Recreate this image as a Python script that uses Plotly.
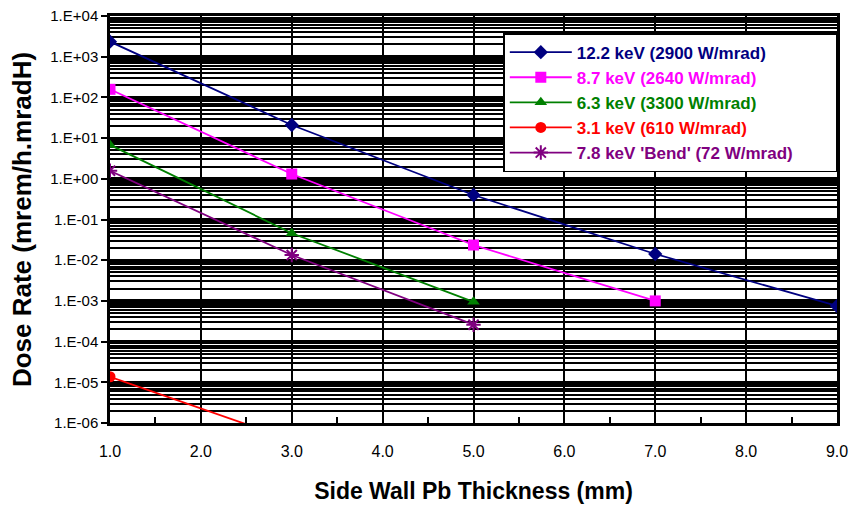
import plotly.graph_objects as go

thickness = [1.0, 3.0, 5.0, 7.0, 9.0]

s_122 = [2340, 21, 0.40, 0.0142, 7.5e-4]
s_87 = [158, 1.31, 0.0236, 1.0e-3]
s_63 = [6.8, 0.046, 9.5e-4]
s_31 = [1.37e-5, 3.8e-7]
s_78 = [1.58, 0.0134, 2.6e-4]

names = ["12.2 keV (2900 W/mrad)", "8.7 keV (2640 W/mrad)", "6.3 keV (3300 W/mrad)",
         "3.1 keV (610 W/mrad)", "7.8 keV 'Bend' (72 W/mrad)"]
colors = ["#000080", "#FF00FF", "#008000", "#FF0000", "#800080"]
symbols = ["diamond", "square", "triangle-up", "circle", "asterisk-open"]
series = [s_122, s_87, s_63, s_31, s_78]

x_ticks = [1, 2, 3, 4, 5, 6, 7, 8, 9]
x_ticktext = ["1.0", "2.0", "3.0", "4.0", "5.0", "6.0", "7.0", "8.0", "9.0"]
y_exps = list(range(-6, 5))
y_ticks = [10.0 ** e for e in y_exps]
y_ticktext = ["1.E%s%02d" % ("+" if e >= 0 else "-", abs(e)) for e in y_exps]
y_minor = [m * 10.0 ** e for e in range(-6, 4) for m in range(2, 10)]

REG = "Arial, Liberation Sans, sans-serif"

fig = go.Figure()
for name, col, sym, ys in zip(names, colors, symbols, series):
    fig.add_trace(go.Scatter(
        x=thickness[:len(ys)], y=ys, mode="lines+markers",
        name='<b><span style="color:%s">%s</span></b>%s' % (col, name, "&nbsp;" * 8),
        line=dict(color=col, width=1.8),
        marker=dict(symbol=sym, size=11 if sym != "asterisk-open" else 12,
                    color=col, line=dict(color=col, width=2 if sym == "asterisk-open" else 0)),
    ))

fig.update_layout(
    width=851, height=508,
    margin=dict(l=110, r=14, t=16, b=85),
    paper_bgcolor="white", plot_bgcolor="white",
    font=dict(family=REG, color="black", size=15),
    showlegend=True,
    legend=dict(x=0.541, y=0.958, xanchor="left", yanchor="top",
                bgcolor="white", bordercolor="black", borderwidth=1.5,
                font=dict(size=17, family=REG),
                itemwidth=62, tracegroupgap=0),
)
fig.update_xaxes(
    range=[1, 9], tickvals=x_ticks, ticktext=x_ticktext, automargin=False,
    showgrid=True, gridcolor="black", gridwidth=2,
    showline=True, linecolor="black", linewidth=2.5, mirror=True,
    ticks="inside", ticklen=6, tickwidth=2, tickcolor="black",
    minor=dict(dtick=0.5, ticks="inside", ticklen=6, tickwidth=2, tickcolor="black", showgrid=False),
    tickfont=dict(size=16, family=REG), ticklabelstandoff=12, zeroline=False,
    title=dict(text="<b>Side Wall Pb Thickness (mm)</b>", font=dict(size=23, family=REG), standoff=24),
)
fig.update_yaxes(
    type="log", range=[-6, 4], tickvals=y_ticks, ticktext=y_ticktext, automargin=False,
    showgrid=True, gridcolor="black", gridwidth=2.5,
    showline=True, linecolor="black", linewidth=2.5, mirror=True,
    ticks="outside", ticklen=6, tickwidth=2, tickcolor="black",
    minor=dict(tickvals=y_minor, showgrid=True, gridcolor="black", gridwidth=1.8, ticks=""),
    tickfont=dict(size=15, family=REG), zeroline=False,
    title=dict(text="<b>Dose Rate (mrem/h.mradH)</b>", font=dict(size=26, family=REG), standoff=12),
)

fig.write_html("out.html", config={"displayModeBar": False},
               post_script="document.body.style.margin='0';document.body.style.overflow='hidden';")
